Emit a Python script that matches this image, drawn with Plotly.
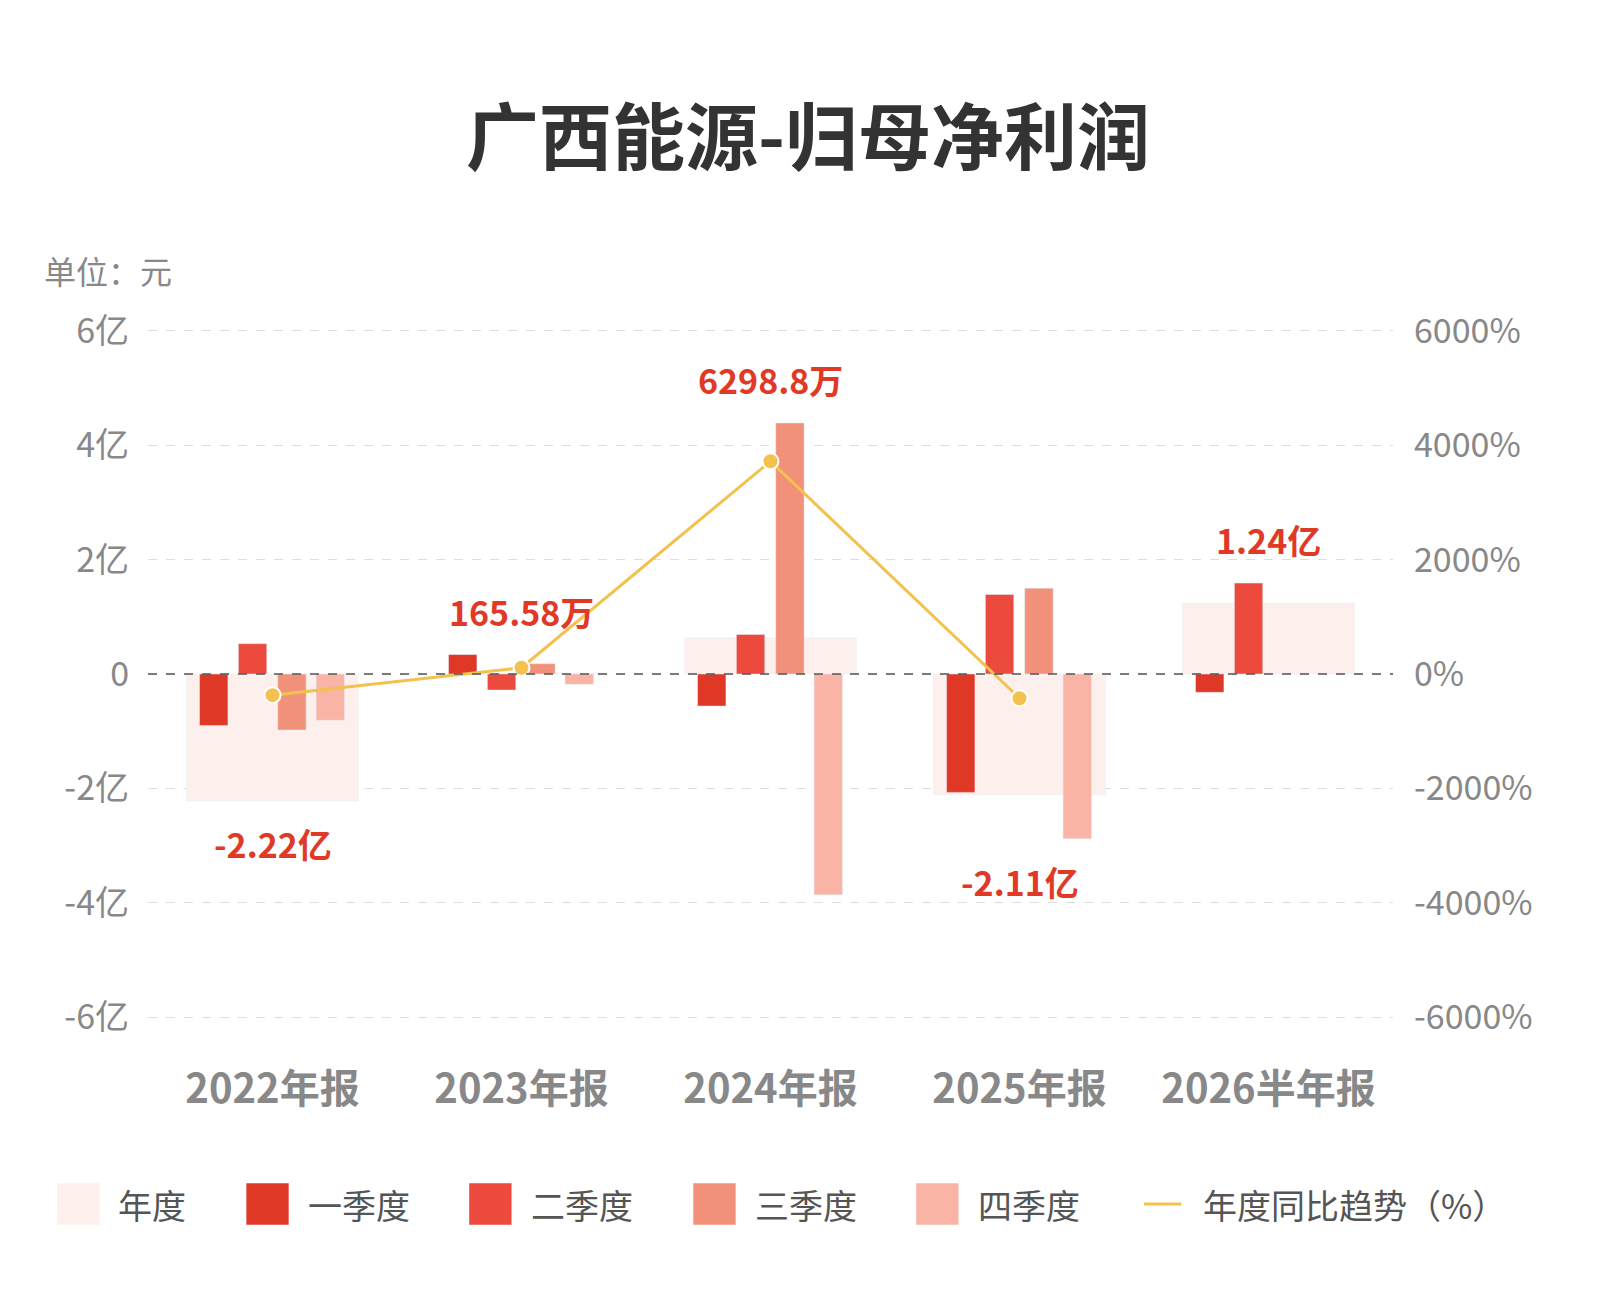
import plotly.graph_objects as go

periods = ["2022年报", "2023年报", "2024年报", "2025年报", "2026半年报"]
annual = [-2.22, 0.0166, 0.63, -2.11, 1.24]  # 亿元
q1 = [-0.90, 0.34, -0.56, -2.07, -0.32]
q2 = [0.53, -0.28, 0.69, 1.39, 1.59]
q3 = [-0.98, 0.18, 4.39, 1.50, None]
q4 = [-0.81, -0.18, -3.86, -2.88, None]
yoy = [-370, 110, 3720, -423, None]  # %
labels = ["-2.22亿", "165.58万", "6298.8万", "-2.11亿", "1.24亿"]
label_y = [-2.96, 1.09, 5.15, -3.63, 2.36]

font = "Noto Sans CJK SC"
fig = go.Figure()
series = [("年度", annual, "#fdf0ec", -0.345, 0.69),
          ("一季度", q1, "#df3826", -0.293, 0.114), ("二季度", q2, "#ec4a3c", -0.137, 0.114),
          ("三季度", q3, "#f2917a", 0.021, 0.114), ("四季度", q4, "#f9b4a5", 0.175, 0.114)]
for name, vals, color, off, w in series:
    fig.add_trace(go.Bar(x=periods, y=vals, name=name, marker_color=color,
                         width=w, offset=off, showlegend=False))
fig.add_trace(go.Scatter(x=periods, y=yoy, yaxis="y2", showlegend=False, name="年度同比趋势（%）",
                         mode="lines+markers", line=dict(color="#f2c14e", width=3),
                         marker=dict(size=16, color="#f2c14e", line=dict(color="white", width=2))))

for p, t, yv in zip(periods, labels, label_y):
    fig.add_annotation(x=p, y=yv, text=f"<b>{t}</b>", showarrow=False,
                       font=dict(size=34, color="#e03a27", family=font))

fig.add_annotation(text="单位：元", x=-0.085, xanchor="left", xref="paper", y=1.12, yref="paper",
                   showarrow=False, font=dict(size=32, color="#888"))
fig.add_shape(type="line", xref="paper", x0=0, x1=1, y0=0, y1=0,
              line=dict(color="#555", width=1.5, dash="dash"))

# hand-drawn legend
ly = -0.266
box_x = [-0.073, 0.079, 0.258, 0.438, 0.617]
text_x = [-0.026, 0.127, 0.306, 0.486, 0.665, 0.846]
for (name, vals, color, off, w), bx, tx in zip(series, box_x, text_x):
    fig.add_shape(type="rect", xref="paper", yref="paper", x0=bx, x1=bx + 0.034,
                  y0=ly - 0.03, y1=ly + 0.03, fillcolor=color, line=dict(width=0))
    fig.add_annotation(text=name, x=tx, xanchor="left", yanchor="middle", xref="paper",
                       y=ly, yref="paper", showarrow=False, font=dict(size=34, color="#555"))
fig.add_shape(type="line", xref="paper", yref="paper", x0=0.800, x1=0.830, y0=ly, y1=ly,
              line=dict(color="#f2c14e", width=3))
fig.add_annotation(text="年度同比趋势（%）", x=text_x[-1], xanchor="left", yanchor="middle",
                   xref="paper", y=ly, yref="paper", showarrow=False,
                   font=dict(size=34, color="#555"))

fig.update_layout(
    width=1600, height=1300, barmode="overlay", plot_bgcolor="white", paper_bgcolor="white",
    font=dict(family=font, color="#888"), showlegend=False,
    title=dict(text="<b>广西能源-归母净利润</b>", x=0.5, y=0.9, xanchor="center", yanchor="middle",
               font=dict(size=73, color="#333", family=font)),
    margin=dict(l=140, r=215, t=320, b=288),
    xaxis=dict(tickfont=dict(size=40, color="#888"), ticks="", showline=False,
               tickprefix="<b>", ticksuffix="</b>", ticklabelstandoff=42),
    yaxis=dict(range=[-6.05, 6.05], tickvals=[-6, -4, -2, 0, 2, 4, 6],
               ticktext=["-6亿", "-4亿", "-2亿", "0", "2亿", "4亿", "6亿"],
               tickfont=dict(size=34, color="#888"), showgrid=True, gridcolor="#ddd",
               griddash="dash", zeroline=False, ticklabelstandoff=18),
    yaxis2=dict(range=[-6050, 6050], overlaying="y", side="right",
                tickvals=[-6000, -4000, -2000, 0, 2000, 4000, 6000],
                ticktext=["-6000%", "-4000%", "-2000%", "0%", "2000%", "4000%", "6000%"],
                tickfont=dict(size=34, color="#888"), showgrid=False, zeroline=False,
                ticklabelstandoff=20),
)
fig.write_html("out.html")
